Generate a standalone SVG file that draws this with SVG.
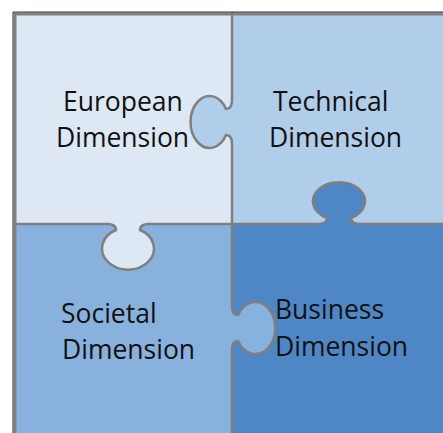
<svg xmlns="http://www.w3.org/2000/svg" width="443" height="433" viewBox="0 0 443 433">
  <style>
    .lbl { font-family: "Open Sans", "Liberation Sans", sans-serif; font-size: 26.5px; fill: #111111; }
    .div { fill: none; stroke: #7f7f7f; stroke-width: 2.5; stroke-linejoin: round; }
    .tl { fill: #dee8f4; }
    .tr { fill: #b0cdea; }
    .bl { fill: #88b1de; }
    .br { fill: #4f87c6; }
  </style>
  <rect x="0" y="0" width="443" height="433" fill="#ffffff"/>
  <g id="european">
    <rect class="tl" x="14" y="12" width="218" height="212"/>
    <text class="lbl" x="63" y="111">European</text>
    <text class="lbl" x="56" y="147">Dimension</text>
  </g>
  <g id="technical">
    <rect class="tr" x="232" y="12" width="211" height="212"/>
    <text class="lbl" x="273" y="111">Technical</text>
    <text class="lbl" x="269" y="147">Dimension</text>
  </g>
  <g id="societal">
    <rect class="bl" x="14" y="224" width="218" height="209"/>
    <text class="lbl" x="61" y="323">Societal</text>
    <text class="lbl" x="62" y="359">Dimension</text>
  </g>
  <g id="business">
    <rect class="br" x="232" y="224" width="211" height="209"/>
    <text class="lbl" x="275" y="319">Business</text>
    <text class="lbl" x="275" y="356">Dimension</text>
  </g>
  <g id="connectors">
    <!-- tab fills -->
    <path class="tr" d="M232,100 Q232,109 226,109 A19,26 0 1 0 226,135 Q232,135 232,144 Z"/>
    <path class="br" d="M318,224 Q327,224 327,218 A26,19 0 1 1 351,218 Q351,224 360,224 Z"/>
    <path class="tl" d="M107,224 Q116,224 116,230 A26,21 0 1 0 140,230 Q140,224 149,224 Z"/>
    <path class="bl" d="M232,306 Q232,315 238,315 A20,26 0 1 1 238,341 Q232,341 232,350 Z"/>
    <!-- divider lines with tab outlines -->
    <path class="div" d="M232,12 L232,100 Q232,109 226,109 A19,26 0 1 0 226,135 Q232,135 232,144 L232,306 Q232,315 238,315 A20,26 0 1 1 238,341 Q232,341 232,350 L232,433"/>
    <path class="div" d="M14,224 L107,224 Q116,224 116,230 A26,21 0 1 0 140,230 Q140,224 149,224 L318,224 Q327,224 327,218 A26,19 0 1 1 351,218 Q351,224 360,224 L443,224"/>
    <!-- outer frame -->
    <path d="M15,433 L15,14 L443,14" fill="none" stroke="#808080" stroke-width="3"/>
    <path d="M13,433 L13,12 L443,12" fill="none" stroke="#333333" stroke-width="1"/>
  </g>
</svg>
